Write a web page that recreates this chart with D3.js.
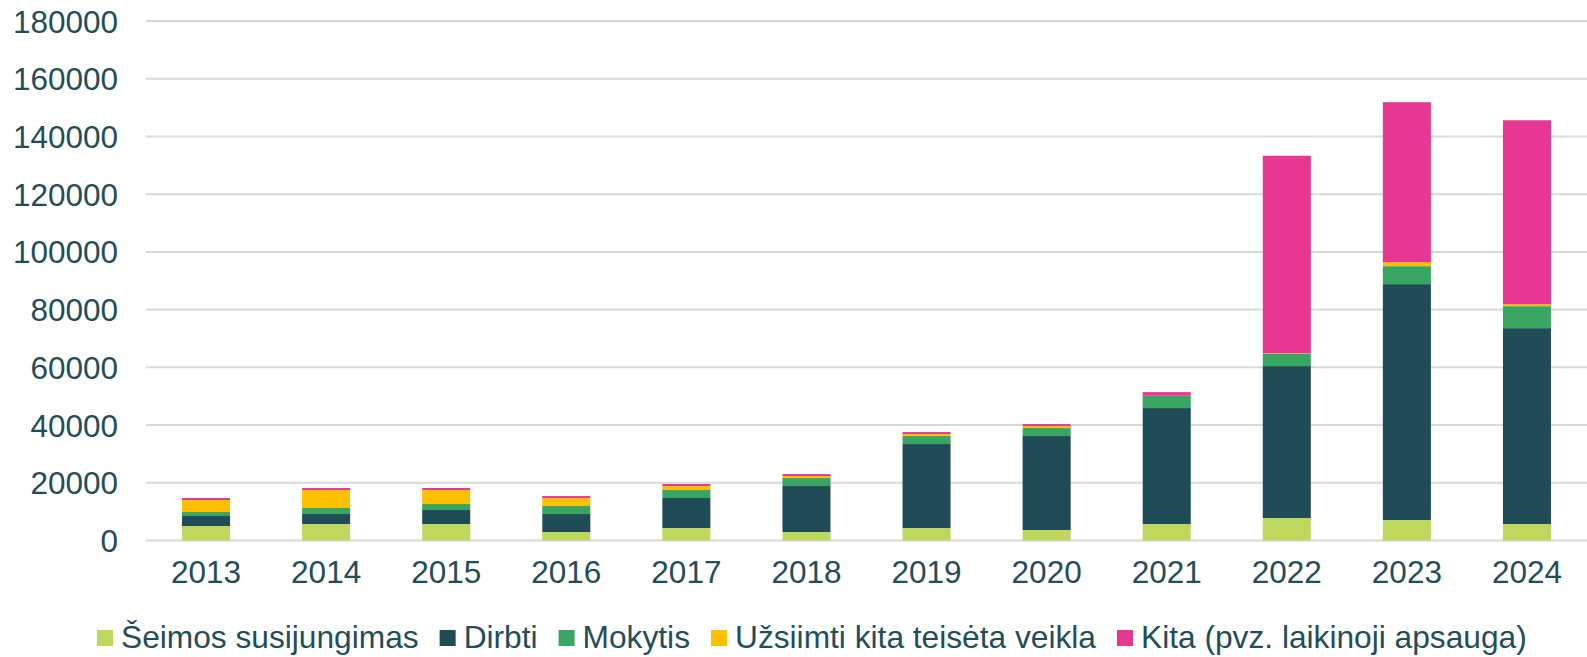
<!DOCTYPE html>
<html lang="lt">
<head>
<meta charset="UTF-8">
<title>Leidimai</title>
<script src="https://cdn.jsdelivr.net/npm/d3@7"></script>
<style>
  body { margin: 0; background: #fff; }
  text { font-family: Arial, "Liberation Sans", sans-serif; fill: #1F4E5A; }
</style>
</head>
<body>
<script>
var width = 1587, height = 657;

// duomenys
var years = ["2013","2014","2015","2016","2017","2018","2019","2020","2021","2022","2023","2024"];
var seimos  = [5020, 5710, 5710, 2940, 4330, 2940, 4330, 3640, 5710, 7790, 7100, 5710];
var dirbti  = [3460, 3460, 4850, 6230, 10390, 15930, 29090, 32550, 40170, 52640, 81730, 67870];
var mokytis = [1390, 2080, 2080, 2770, 2770, 2770, 2770, 2770, 4270, 4270, 6230, 7620];
var uzsiimti = [4160, 6230, 4850, 2770, 1390, 690, 690, 690, 0, 150, 1390, 690];
var kita    = [690, 690, 690, 690, 690, 690, 690, 690, 1270, 68460, 55410, 63720];
var seriesNames = ["Šeimos susijungimas", "Dirbti", "Mokytis", "Užsiimti kita teisėta veikla", "Kita (pvz. laikinoji apsauga)"];
var colors = ["#BDD85D", "#1F4C56", "#38A562", "#FFC000", "#E83693"];
var yTicks = [0, 20000, 40000, 60000, 80000, 100000, 120000, 140000, 160000, 180000];

var seriesValues = [seimos, dirbti, mokytis, uzsiimti, kita];
var rows = years.map(function(y, i) {
  var r = { year: y };
  seriesNames.forEach(function(n, k) { r[n] = seriesValues[k][i]; });
  return r;
});

var svg = d3.select("body").append("svg")
  .attr("width", width).attr("height", height);

var x = d3.scaleBand().domain(years).range([146, 1587]).paddingInner(0.6).paddingOuter(0.3);
var y = d3.scaleLinear().domain([0, 180000]).range([540.5, 21]);

// gridlines
svg.append("g").selectAll("line").data(yTicks).enter().append("line")
  .attr("x1", 146).attr("x2", 1587)
  .attr("y1", function(d) { return y(d); })
  .attr("y2", function(d) { return y(d); })
  .attr("stroke", "#D9D9D9").attr("stroke-width", 2);

// y axis
var yAxis = svg.append("g").attr("transform", "translate(118,0)")
  .call(d3.axisLeft(y).tickValues(yTicks).tickSize(0).tickPadding(0).tickFormat(d3.format("d")));
yAxis.select(".domain").remove();
yAxis.selectAll("text").style("font-size", "31.5px").attr("dy", "0.35em").style("fill", "#1F4E5A");

// x axis
var xAxis = svg.append("g").attr("transform", "translate(0,552)")
  .call(d3.axisBottom(x).tickSize(0).tickPadding(0));
xAxis.select(".domain").remove();
xAxis.selectAll("text").style("font-size", "31.5px").attr("dy", "0.98em").style("fill", "#1F4E5A");

var stack = d3.stack().keys(seriesNames)(rows);

svg.append("g").selectAll("g").data(stack).enter().append("g")
  .attr("fill", function(d, i) { return colors[i]; })
  .selectAll("rect").data(function(d) { return d; }).enter().append("rect")
  .attr("x", function(d) { return x(d.data.year); })
  .attr("width", x.bandwidth())
  .attr("y", function(d) { return y(d[1]); })
  .attr("height", function(d) { return y(d[0]) - y(d[1]); });

// legend
var legend = svg.append("g");
var lx = 97;
seriesNames.forEach(function(n, i) {
  legend.append("rect").attr("x", lx).attr("y", 630).attr("width", 16).attr("height", 16).attr("fill", colors[i]);
  var t = legend.append("text").attr("x", lx + 24).attr("y", 648)
    .style("font-size", "31.7px").text(n);
  lx += 24 + t.node().getComputedTextLength() + 21;
});
</script>
</body>
</html>
